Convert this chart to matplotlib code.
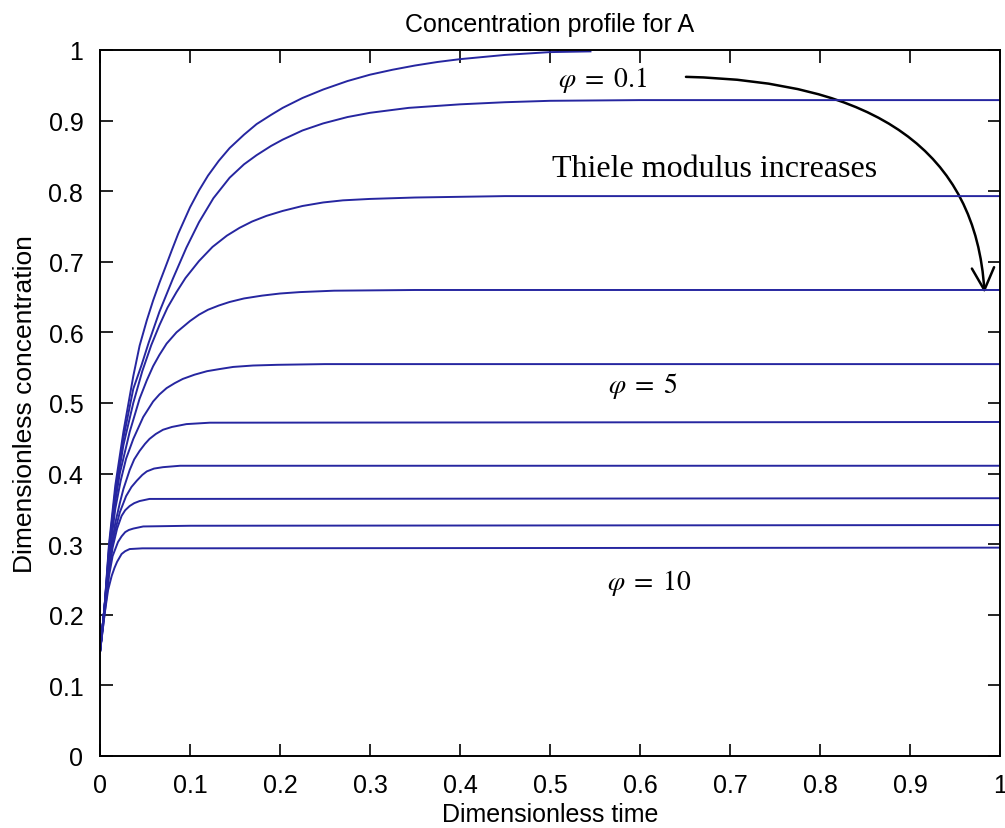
import matplotlib.pyplot as plt
from matplotlib.patches import FancyArrowPatch

plt.rcParams['font.family'] = ['Liberation Sans', 'DejaVu Sans']
plt.rcParams['mathtext.fontset'] = 'stix'

# curves, one per Thiele modulus (top = phi 0.1, bottom = phi 10)
x1 = [0, 0.005, 0.01, 0.017, 0.026, 0.037, 0.044, 0.052, 0.059, 0.066, 0.072, 0.08,
      0.087, 0.1, 0.11, 0.12, 0.132, 0.144, 0.16, 0.174, 0.19, 0.203, 0.225, 0.248,
      0.275, 0.3, 0.325, 0.35, 0.375, 0.4, 0.45, 0.5, 0.545]
y1 = [0.147, 0.21, 0.30, 0.383, 0.459, 0.538, 0.581, 0.617, 0.645, 0.67, 0.69, 0.717,
      0.74, 0.777, 0.801, 0.822, 0.843, 0.861, 0.88, 0.895, 0.908, 0.918, 0.932, 0.944,
      0.956, 0.965, 0.972, 0.978, 0.983, 0.987, 0.993, 0.997, 0.998]

x2 = [0, 0.005, 0.01, 0.017, 0.026, 0.037, 0.046, 0.054, 0.066, 0.081, 0.096, 0.11,
      0.126, 0.144, 0.16, 0.174, 0.19, 0.203, 0.225, 0.248, 0.275, 0.3, 0.343, 0.4,
      0.45, 0.5, 0.6, 1.0]
y2 = [0.147, 0.21, 0.295, 0.375, 0.45, 0.52, 0.553, 0.585, 0.629, 0.676, 0.72, 0.756,
      0.79, 0.819, 0.838, 0.851, 0.864, 0.873, 0.886, 0.896, 0.905, 0.911, 0.918, 0.923,
      0.926, 0.928, 0.929, 0.929]

x3 = [0, 0.005, 0.01, 0.017, 0.026, 0.037, 0.047, 0.057, 0.066, 0.075, 0.085, 0.095,
      0.11, 0.125, 0.141, 0.155, 0.169, 0.185, 0.203, 0.225, 0.248, 0.27, 0.3, 0.35,
      0.45, 1.0]
y3 = [0.147, 0.21, 0.29, 0.37, 0.44, 0.5, 0.545, 0.582, 0.61, 0.635, 0.657, 0.677,
      0.701, 0.721, 0.737, 0.748, 0.757, 0.765, 0.772, 0.779, 0.784, 0.787, 0.789, 0.791,
      0.793, 0.793]

x4 = [0, 0.005, 0.01, 0.017, 0.022, 0.033, 0.044, 0.052, 0.059, 0.066, 0.074, 0.085,
      0.1, 0.11, 0.12, 0.132, 0.144, 0.16, 0.18, 0.2, 0.222, 0.26, 0.35, 1.0]
y4 = [0.147, 0.21, 0.285, 0.36, 0.40, 0.459, 0.506, 0.532, 0.552, 0.568, 0.584, 0.6,
      0.616, 0.625, 0.632, 0.638, 0.643, 0.648, 0.652, 0.655, 0.657, 0.659, 0.66, 0.66]

x5 = [0, 0.005, 0.01, 0.017, 0.023, 0.029, 0.037, 0.048, 0.059, 0.066, 0.074, 0.083,
      0.092, 0.105, 0.119, 0.133, 0.148, 0.17, 0.197, 0.25, 1.0]
y5 = [0.147, 0.21, 0.28, 0.35, 0.39, 0.421, 0.449, 0.48, 0.502, 0.512, 0.521, 0.528,
      0.534, 0.54, 0.545, 0.548, 0.551, 0.553, 0.554, 0.555, 0.555]

x6 = [0, 0.005, 0.01, 0.017, 0.022, 0.026, 0.033, 0.038, 0.044, 0.05, 0.055, 0.062,
      0.07, 0.08, 0.096, 0.122, 1.0]
y6 = [0.147, 0.21, 0.275, 0.33, 0.358, 0.378, 0.405, 0.42, 0.432, 0.442, 0.449, 0.456,
      0.462, 0.466, 0.470, 0.472, 0.473]

x7 = [0, 0.005, 0.01, 0.016, 0.022, 0.029, 0.035, 0.041, 0.047, 0.052, 0.06, 0.07,
      0.089, 1.0]
y7 = [0.147, 0.21, 0.27, 0.315, 0.345, 0.368, 0.381, 0.390, 0.398, 0.403, 0.407, 0.409,
      0.411, 0.411]

x8 = [0, 0.005, 0.01, 0.014, 0.019, 0.024, 0.028, 0.033, 0.038, 0.044, 0.055, 1.0]
y8 = [0.147, 0.205, 0.26, 0.295, 0.322, 0.340, 0.348, 0.354, 0.358, 0.361, 0.364, 0.365]

x9 = [0, 0.005, 0.01, 0.014, 0.02, 0.024, 0.028, 0.032, 0.037, 0.048, 0.1, 1.0]
y9 = [0.147, 0.2, 0.255, 0.283, 0.303, 0.311, 0.317, 0.32, 0.322, 0.325, 0.326, 0.327]

x10 = [0, 0.005, 0.009, 0.013, 0.016, 0.019, 0.024, 0.028, 0.033, 0.047, 1.0]
y10 = [0.147, 0.2, 0.235, 0.255, 0.266, 0.275, 0.286, 0.290, 0.293, 0.294, 0.295]

curves = [(x1, y1), (x2, y2), (x3, y3), (x4, y4), (x5, y5),
          (x6, y6), (x7, y7), (x8, y8), (x9, y9), (x10, y10)]

ticks = [0, 0.1, 0.2, 0.3, 0.4, 0.5, 0.6, 0.7, 0.8, 0.9, 1]
tick_labels = ['0', '0.1', '0.2', '0.3', '0.4', '0.5', '0.6', '0.7', '0.8', '0.9', '1']

fig = plt.figure(figsize=(10.05, 8.29), dpi=100)
ax = fig.add_axes([0.0995, 0.087, 0.8955, 0.8515])

for xs, ys in curves:
    ax.plot(xs, ys, color='#2626a0', lw=1.4)

ax.set_xlim(0, 1)
ax.set_ylim(0, 1)
ax.set_xticks(ticks)
ax.set_xticklabels(tick_labels)
ax.set_yticks(ticks)
ax.set_yticklabels(tick_labels)
ax.tick_params(direction='in', length=9, width=1.2, top=True, right=True,
               labelsize=18, pad=12)
for s in ax.spines.values():
    s.set_linewidth(1.4)

ax.set_title('Concentration profile for A', fontsize=18, pad=14)
ax.set_xlabel('Dimensionless time', fontsize=18, labelpad=4)
ax.set_ylabel('Dimensionless concentration', fontsize=19, labelpad=8)

ax.text(0.509, 0.949, r'$\varphi\;=\;0.1$', fontsize=20)
ax.text(0.502, 0.822, 'Thiele modulus increases', fontsize=23, family='Liberation Serif')
ax.text(0.564, 0.516, r'$\varphi\;=\;5$', fontsize=20)
ax.text(0.563, 0.237, r'$\varphi\;=\;10$', fontsize=20)

# curved arrow from the phi = 0.1 label down the right side
arrow = FancyArrowPatch((0.648, 0.962), (0.983, 0.652),
                        connectionstyle='angle3,angleA=-1,angleB=93',
                        arrowstyle='->,head_length=16,head_width=8',
                        color='black', lw=1.8, mutation_scale=1)
ax.add_patch(arrow)

fig.savefig('out.png', dpi=100)
